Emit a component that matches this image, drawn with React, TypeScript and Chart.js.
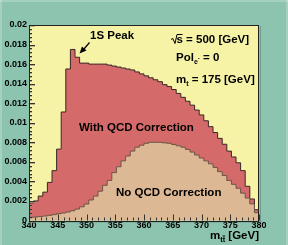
import React, { useEffect, useRef } from 'react';
import { Chart, registerables } from 'chart.js';

Chart.register(...registerables);

// Histogram binning (GeV)
const BIN_LOW = 340;
const BIN_WIDTH = 0.8;

// d sigma / d m_tt  — with QCD (Coulomb) correction, 50 bins of 0.8 GeV
const withQCD = [
  0.0018, 0.0020, 0.0025, 0.0029, 0.0039, 0.0051, 0.0073, 0.0111, 0.0155, 0.0175,
  0.0167, 0.0161, 0.0161, 0.0160, 0.0160, 0.0160, 0.0160, 0.0159, 0.0158, 0.0157,
  0.0156, 0.0155, 0.0154, 0.0152, 0.0150, 0.0148, 0.0146, 0.0144, 0.0142, 0.0139,
  0.0137, 0.0134, 0.0130, 0.0126, 0.0122, 0.0118, 0.0113, 0.0108, 0.0102, 0.0096,
  0.0090, 0.0084, 0.0078, 0.0071, 0.0065, 0.0059, 0.0051, 0.0035, 0.0022, 0.0011,
];

// without QCD correction
const noQCD = [
  0.00033, 0.00036, 0.00040, 0.00046, 0.00053, 0.00060, 0.00070, 0.00077, 0.00087, 0.00100,
  0.00117, 0.00140, 0.00168, 0.00210, 0.00250, 0.00300, 0.00360, 0.00410, 0.00490, 0.00550,
  0.00610, 0.00660, 0.00710, 0.00750, 0.00770, 0.00790, 0.00800, 0.00800, 0.00800, 0.00794,
  0.00790, 0.00778, 0.00764, 0.00750, 0.00727, 0.00700, 0.00670, 0.00640, 0.00610, 0.00580,
  0.00543, 0.00500, 0.00460, 0.00410, 0.00370, 0.00330, 0.00280, 0.00230, 0.00170, 0.00080,
];

const xTicks = [340, 345, 350, 355, 360, 365, 370, 375, 380];
const yTicks = [0, 0.002, 0.004, 0.006, 0.008, 0.01, 0.012, 0.014, 0.016, 0.018, 0.02];

const COL_OUTER = '#8cc4b0';
const COL_PLOT = '#f6f3a6';
const COL_RED = '#d46a6a';
const COL_TAN = '#ddb894';
const FONT = '"Liberation Sans", Arial, Helvetica, sans-serif';

function toSteps(values: number[]) {
  const pts = values.map((v, i) => ({ x: BIN_LOW + i * BIN_WIDTH, y: v }));
  pts.push({ x: BIN_LOW + values.length * BIN_WIDTH, y: values[values.length - 1] });
  return pts;
}

const bgPlugin = {
  id: 'bgPlugin',
  beforeDraw(chart: any) {
    const { ctx, chartArea, width, height } = chart;
    ctx.save();
    ctx.fillStyle = COL_OUTER;
    ctx.fillRect(0, 0, width, height);
    // bevel
    ctx.fillStyle = 'rgba(255,255,255,0.22)';
    ctx.fillRect(0, 0, width, 2);
    ctx.fillRect(width - 2, 0, 2, height);
    ctx.fillRect(0, 0, 2, height);
    ctx.fillStyle = COL_PLOT;
    ctx.fillRect(chartArea.left, chartArea.top, chartArea.right - chartArea.left, chartArea.bottom - chartArea.top);
    ctx.restore();
  },
};

const framePlugin = {
  id: 'framePlugin',
  afterDatasetsDraw(chart: any) {
    const { ctx, chartArea } = chart;
    const xs = chart.scales.x;
    const ys = chart.scales.y;
    const L = chartArea.left, R = chartArea.right, T = chartArea.top, B = chartArea.bottom;
    ctx.save();
    ctx.lineWidth = 1;
    // y ticks (inside)
    for (let i = 0; i <= 50; i++) {
      const v = i * 0.0004;
      const py = Math.round(ys.getPixelForValue(v)) + 0.5;
      const len = i % 5 === 0 ? 6 : 3;
      ctx.strokeStyle = 'rgba(150,150,120,0.7)';
      ctx.beginPath();
      ctx.moveTo(L, py + 1);
      ctx.lineTo(L + len, py + 1);
      ctx.stroke();
      ctx.strokeStyle = '#333';
      ctx.beginPath();
      ctx.moveTo(L, py);
      ctx.lineTo(L + len, py);
      ctx.stroke();
    }
    // x ticks (inside)
    for (let i = 0; i <= 40; i++) {
      const v = 340 + i;
      const px = Math.round(xs.getPixelForValue(v)) + 0.5;
      const len = i % 5 === 0 ? 6 : 3;
      ctx.strokeStyle = '#333';
      ctx.beginPath();
      ctx.moveTo(px, B);
      ctx.lineTo(px, B - len);
      ctx.stroke();
    }
    // frame shadow
    ctx.strokeStyle = 'rgba(90,110,100,0.5)';
    ctx.beginPath();
    ctx.moveTo(L + 1, B + 1.5);
    ctx.lineTo(R + 1.5, B + 1.5);
    ctx.lineTo(R + 1.5, T + 1);
    ctx.stroke();
    // frame
    ctx.strokeStyle = '#222';
    ctx.strokeRect(Math.round(L) + 0.5, Math.round(T) + 0.5, Math.round(R - L) - 1, Math.round(B - T));
    ctx.restore();
  },
};

function drawSubText(ctx: any, parts: { t: string; size: number; dy: number; over?: boolean }[], x: number, y: number, align: 'left' | 'right') {
  let total = 0;
  for (const p of parts) {
    ctx.font = `bold ${p.size}px ${FONT}`;
    total += ctx.measureText(p.t).width;
  }
  let cx = align === 'left' ? x : x - total;
  for (const p of parts) {
    ctx.font = `bold ${p.size}px ${FONT}`;
    const w = ctx.measureText(p.t).width;
    ctx.fillText(p.t, cx, y + p.dy);
    if (p.over) {
      ctx.beginPath();
      ctx.lineWidth = 1;
      ctx.moveTo(cx + w * 0.5, y + p.dy - p.size * 0.8);
      ctx.lineTo(cx + w, y + p.dy - p.size * 0.8);
      ctx.stroke();
    }
    cx += w;
  }
}

const textPlugin = {
  id: 'textPlugin',
  afterDraw(chart: any) {
    const { ctx } = chart;
    ctx.save();
    ctx.fillStyle = '#000';
    ctx.strokeStyle = '#000';
    ctx.textAlign = 'left';
    ctx.textBaseline = 'alphabetic';
    const F = 11.5;

    // 1S Peak + arrow
    ctx.font = `bold ${F}px ${FONT}`;
    ctx.fillText('1S Peak', 90, 39);
    ctx.lineWidth = 1.2;
    ctx.beginPath();
    ctx.moveTo(89.5, 42.5);
    ctx.lineTo(84, 49);
    ctx.stroke();
    ctx.beginPath();
    ctx.moveTo(79.5, 53.5);
    ctx.lineTo(82, 46.5);
    ctx.lineTo(86.5, 50.5);
    ctx.closePath();
    ctx.fill();

    // sqrt(s)
    ctx.lineWidth = 1;
    ctx.beginPath();
    ctx.moveTo(171, 39.5);
    ctx.lineTo(172.8, 38.5);
    ctx.lineTo(175, 43.5);
    ctx.lineTo(177, 34.5);
    ctx.lineTo(182.5, 34.5);
    ctx.stroke();
    ctx.font = `bold ${F}px ${FONT}`;
    ctx.fillText('s = 500 [GeV]', 176.5, 43);

    // Pol_e- = 0
    drawSubText(ctx, [
      { t: 'Pol', size: F, dy: 0 },
      { t: 'e', size: 7, dy: 3 },
      { t: '-', size: 6, dy: -1 },
      { t: ' = 0', size: F, dy: 0 },
    ], 176, 61, 'left');

    // m_t = 175 [GeV]
    drawSubText(ctx, [
      { t: 'm', size: F, dy: 0 },
      { t: 't', size: 7, dy: 3 },
      { t: ' = 175 [GeV]', size: F, dy: 0 },
    ], 176, 83, 'left');

    ctx.font = `bold ${F}px ${FONT}`;
    ctx.fillText('With QCD Correction', 79, 131);
    ctx.fillText('No QCD Correction', 116, 195.5);

    // axis title m_tt [GeV]
    drawSubText(ctx, [
      { t: 'm', size: F, dy: 0 },
      { t: 'tt', size: 7.5, dy: 3.5, over: true },
      { t: ' [GeV]', size: F, dy: 0 },
    ], 259, 238.5, 'right');

    ctx.restore();
  },
};

export default function App() {
  const canvasRef = useRef<HTMLCanvasElement | null>(null);

  useEffect(() => {
    document.body.style.margin = '0';
    const canvas = canvasRef.current;
    if (!canvas) return;
    const tickFont = { family: FONT, size: 9, weight: 'bold' as const };
    const chart = new Chart(canvas, {
      type: 'line',
      data: {
        datasets: [
          {
            label: 'With QCD Correction',
            data: toSteps(withQCD),
            stepped: true,
            fill: 'origin',
            backgroundColor: COL_RED,
            borderColor: '#3a2626',
            borderWidth: 1,
            pointRadius: 0,
            order: 2,
          },
          {
            label: 'No QCD Correction',
            data: toSteps(noQCD),
            stepped: true,
            fill: 'origin',
            backgroundColor: COL_TAN,
            borderColor: '#6a5646',
            borderWidth: 1,
            pointRadius: 0,
            order: 1,
          },
        ],
      },
      options: {
        animation: false,
        responsive: true,
        maintainAspectRatio: false,
        devicePixelRatio: 1,
        layout: { padding: { top: 25, right: 29, left: 0, bottom: 0 } },
        plugins: { legend: { display: false }, tooltip: { enabled: false } },
        scales: {
          x: {
            type: 'linear',
            min: 340,
            max: 380,
            afterBuildTicks: (s: any) => {
              s.ticks = xTicks.map((v) => ({ value: v }));
            },
            afterFit: (s: any) => {
              s.height = 24.5;
            },
            grid: { display: false, drawTicks: false },
            border: { display: false },
            ticks: {
              font: tickFont,
              color: '#000',
              padding: 0,
              maxRotation: 0,
              autoSkip: false,
              callback: (v: any) => String(v),
            },
          },
          y: {
            type: 'linear',
            min: 0,
            max: 0.02,
            afterBuildTicks: (s: any) => {
              s.ticks = yTicks.map((v) => ({ value: v }));
            },
            afterFit: (s: any) => {
              s.width = 29;
            },
            grid: { display: false, drawTicks: false },
            border: { display: false },
            ticks: {
              font: tickFont,
              color: '#000',
              padding: 2,
              autoSkip: false,
              callback: (v: any) => (v === 0 ? '0' : String(+Number(v).toFixed(3))),
            },
          },
        },
      },
      plugins: [bgPlugin, framePlugin, textPlugin],
    });
    return () => chart.destroy();
  }, []);

  return (
    <div style={{ position: 'fixed', left: 0, top: 0, width: 288, height: 245, background: COL_OUTER }}>
      <canvas ref={canvasRef} width={288} height={245} />
    </div>
  );
}
